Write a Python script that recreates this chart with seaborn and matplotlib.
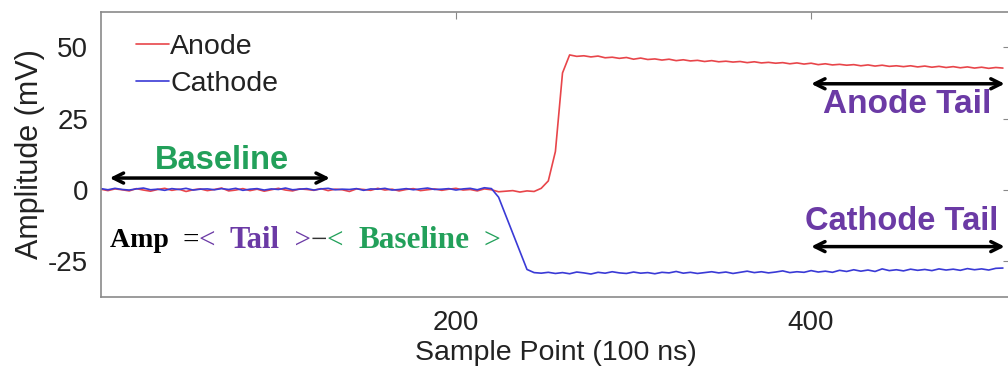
import numpy as np
import pandas as pd
import matplotlib
matplotlib.use("Agg")
import matplotlib.pyplot as plt
import seaborn as sns

# ---------------- data ----------------
sample_points = list(range(0, 512, 4))

anode_mv = [
    0.3, -0.2, 0.4, 0.1, -0.3, 0.5, 0.0, -0.4, 0.2, 0.6, -0.1, 0.3, -0.5, 0.1, 0.4, -0.2,
    0.2, 0.7, -0.3, 0.0, 0.5, -0.2, 0.3, -0.4, 0.1, 0.6, 0.0, -0.3, 0.4, 0.2, -0.1, 0.5,
    -0.2, 0.3, 0.1, -0.5, 0.4, 0.2, -0.1, 0.6, 0.0, 0.3, -0.3, 0.2, 0.5, -0.2, 0.1, 0.4,
    -0.1, 0.3, 0.6, 0.0, 0.2, -0.3, 0.4, 0.1, -0.6, -0.4, -0.2, -0.7, -0.3, -0.5,
    0.6, 3.2, 13.5, 41.0, 47.3,
    46.8, 47.0, 46.6, 46.9, 46.3, 46.5, 46.1, 46.4, 45.8, 46.2,
    45.7, 45.9, 45.5, 45.8, 45.3, 45.6, 45.2, 45.4, 45.0, 45.3,
    44.9, 45.1, 44.8, 45.0, 44.6, 44.9, 44.5, 44.7, 44.4, 44.6,
    44.2, 44.5, 44.1, 44.4, 43.9, 44.2, 43.8, 44.0, 43.7, 43.9,
    43.5, 43.8, 43.4, 43.7, 43.3, 43.5, 43.2, 43.5, 43.1, 43.4,
    43.0, 43.3, 42.9, 43.2, 42.8, 43.1, 42.7, 43.0, 42.6, 42.9,
    42.7,
]

cathode_mv = [
    0.5, 0.1, 0.6, 0.2, 0.0, 0.4, 0.7, 0.1, 0.3, -0.1, 0.5, 0.2, 0.6, 0.0, 0.3, 0.4,
    0.1, 0.5, 0.2, 0.6, -0.1, 0.3, 0.5, 0.0, 0.4, 0.2, 0.7, 0.1, 0.3, 0.5, 0.0, 0.4,
    0.6, 0.1, 0.3, 0.2, 0.5, -0.1, 0.4, 0.3, 0.6, 0.0, 0.2, 0.5, 0.1, 0.4, 0.7, 0.2,
    0.3, 0.5, 0.0, 0.4, 0.6, 0.1, 0.8, 0.5,
    -2.5, -8.8, -15.0, -21.3, -27.8, -28.9,
    -29.1, -28.8, -29.2, -28.9, -29.3, -28.7, -29.0, -29.4, -28.8, -29.1,
    -28.6, -29.0, -29.2, -28.7, -29.1, -28.9, -29.3, -28.8, -29.0, -28.5,
    -29.1, -28.8, -29.2, -28.9, -28.6, -29.0, -28.7, -29.2, -28.8, -28.4,
    -28.9, -28.6, -29.0, -28.7, -28.3, -28.9, -28.6, -28.8, -28.2, -28.7,
    -28.4, -28.8, -28.1, -28.5, -27.9, -28.4, -28.0, -28.5, -27.6, -28.2,
    -27.9, -28.3, -27.7, -28.1, -27.8, -28.2, -27.6, -28.0, -27.7, -28.1,
    -27.5, -27.9, -27.6, -28.0, -27.4, -27.3,
]

series_names = ["Anode", "Cathode"]
series_colors = ["#e8454a", "#3a3ad6"]
y_ticks = [-25, 0, 25, 50]
x_ticks = [200, 400]

assert len(anode_mv) == len(sample_points), len(anode_mv)
assert len(cathode_mv) == len(sample_points), len(cathode_mv)

df = pd.DataFrame({
    "x": sample_points * 2,
    "y": anode_mv + cathode_mv,
    "signal": [series_names[0]] * len(sample_points) + [series_names[1]] * len(sample_points),
})

# ---------------- style ----------------
sns.set_style("white")
plt.rcParams["font.family"] = ["Liberation Sans", "DejaVu Sans"]
plt.rcParams["axes.unicode_minus"] = False

fig = plt.figure(figsize=(10.08, 3.71), dpi=100)
ax = fig.add_axes([0.100, 0.199, 0.902, 0.770])

sns.lineplot(data=df, x="x", y="y", hue="signal", palette=series_colors,
             hue_order=series_names, linewidth=1.2, ax=ax, legend=True)

ax.set_xlim(0, 512)
ax.set_ylim(-37.5, 62.5)
ax.set_xticks(x_ticks)
ax.set_yticks(y_ticks)
ax.tick_params(direction="in", length=5, width=0.8, color="#888888",
               labelsize=20, labelcolor="#222222", top=True, right=True, pad=9)
for s in ax.spines.values():
    s.set_color("#8a8a8a")
    s.set_linewidth(1.2)
ax.set_xlabel("Sample Point (100 ns)", fontsize=20.5, labelpad=3, color="#222222")
ax.set_ylabel("Amplitude (mV)", fontsize=22, labelpad=2, color="#222222")

leg = ax.legend(loc="upper left", frameon=False, fontsize=20.5, handlelength=1.15,
                handletextpad=0.05, labelspacing=0.4, borderaxespad=0.2,
                bbox_to_anchor=(0.020, 0.982))
for t in leg.get_texts():
    t.set_color("#222222")

# ---------------- annotations ----------------
green = "#22a05a"
purple = "#6b3aa5"
arrow_kw = dict(arrowstyle="<->", color="black", lw=2.5, mutation_scale=18,
                shrinkA=0, shrinkB=0)

ax.annotate("", xy=(5, 4.2), xytext=(129, 4.2), arrowprops=arrow_kw)
ax.text(68, 10.5, "Baseline", color=green, fontsize=23.5, fontweight="bold",
        ha="center", va="center")

ax.annotate("", xy=(400, 37.2), xytext=(509, 37.2), arrowprops=arrow_kw)
ax.text(454, 29.8, "Anode Tail", color=purple, fontsize=24, fontweight="bold",
        ha="center", va="center")

ax.annotate("", xy=(400, -19.8), xytext=(509, -19.8), arrowprops=arrow_kw)
ax.text(451, -11.1, "Cathode Tail", color=purple, fontsize=23.5, fontweight="bold",
        ha="center", va="center")

serif = ["Liberation Serif", "DejaVu Serif"]
pieces = [
    ("Amp  ", "black", "bold", 20),
    ("=", "black", "normal", 21),
    ("<  ", purple, "normal", 21),
    ("Tail", purple, "bold", 22),
    ("  >", purple, "normal", 21),
    ("\u2212", "#333333", "normal", 21),
    ("<  ", green, "normal", 21),
    ("Baseline", green, "bold", 22.5),
    ("  >", green, "normal", 21.5),
]
prev = ax.text(5, -17.8, pieces[0][0], color=pieces[0][1], fontweight=pieces[0][2],
               fontsize=pieces[0][3], family=serif, ha="left", va="center")
for txt, col, fw, fs in pieces[1:]:
    prev = ax.annotate(txt, xy=(1, 0.5), xycoords=prev, color=col, fontweight=fw,
                       fontsize=fs, family=serif, ha="left", va="center")

fig.savefig("out.png", dpi=100)
